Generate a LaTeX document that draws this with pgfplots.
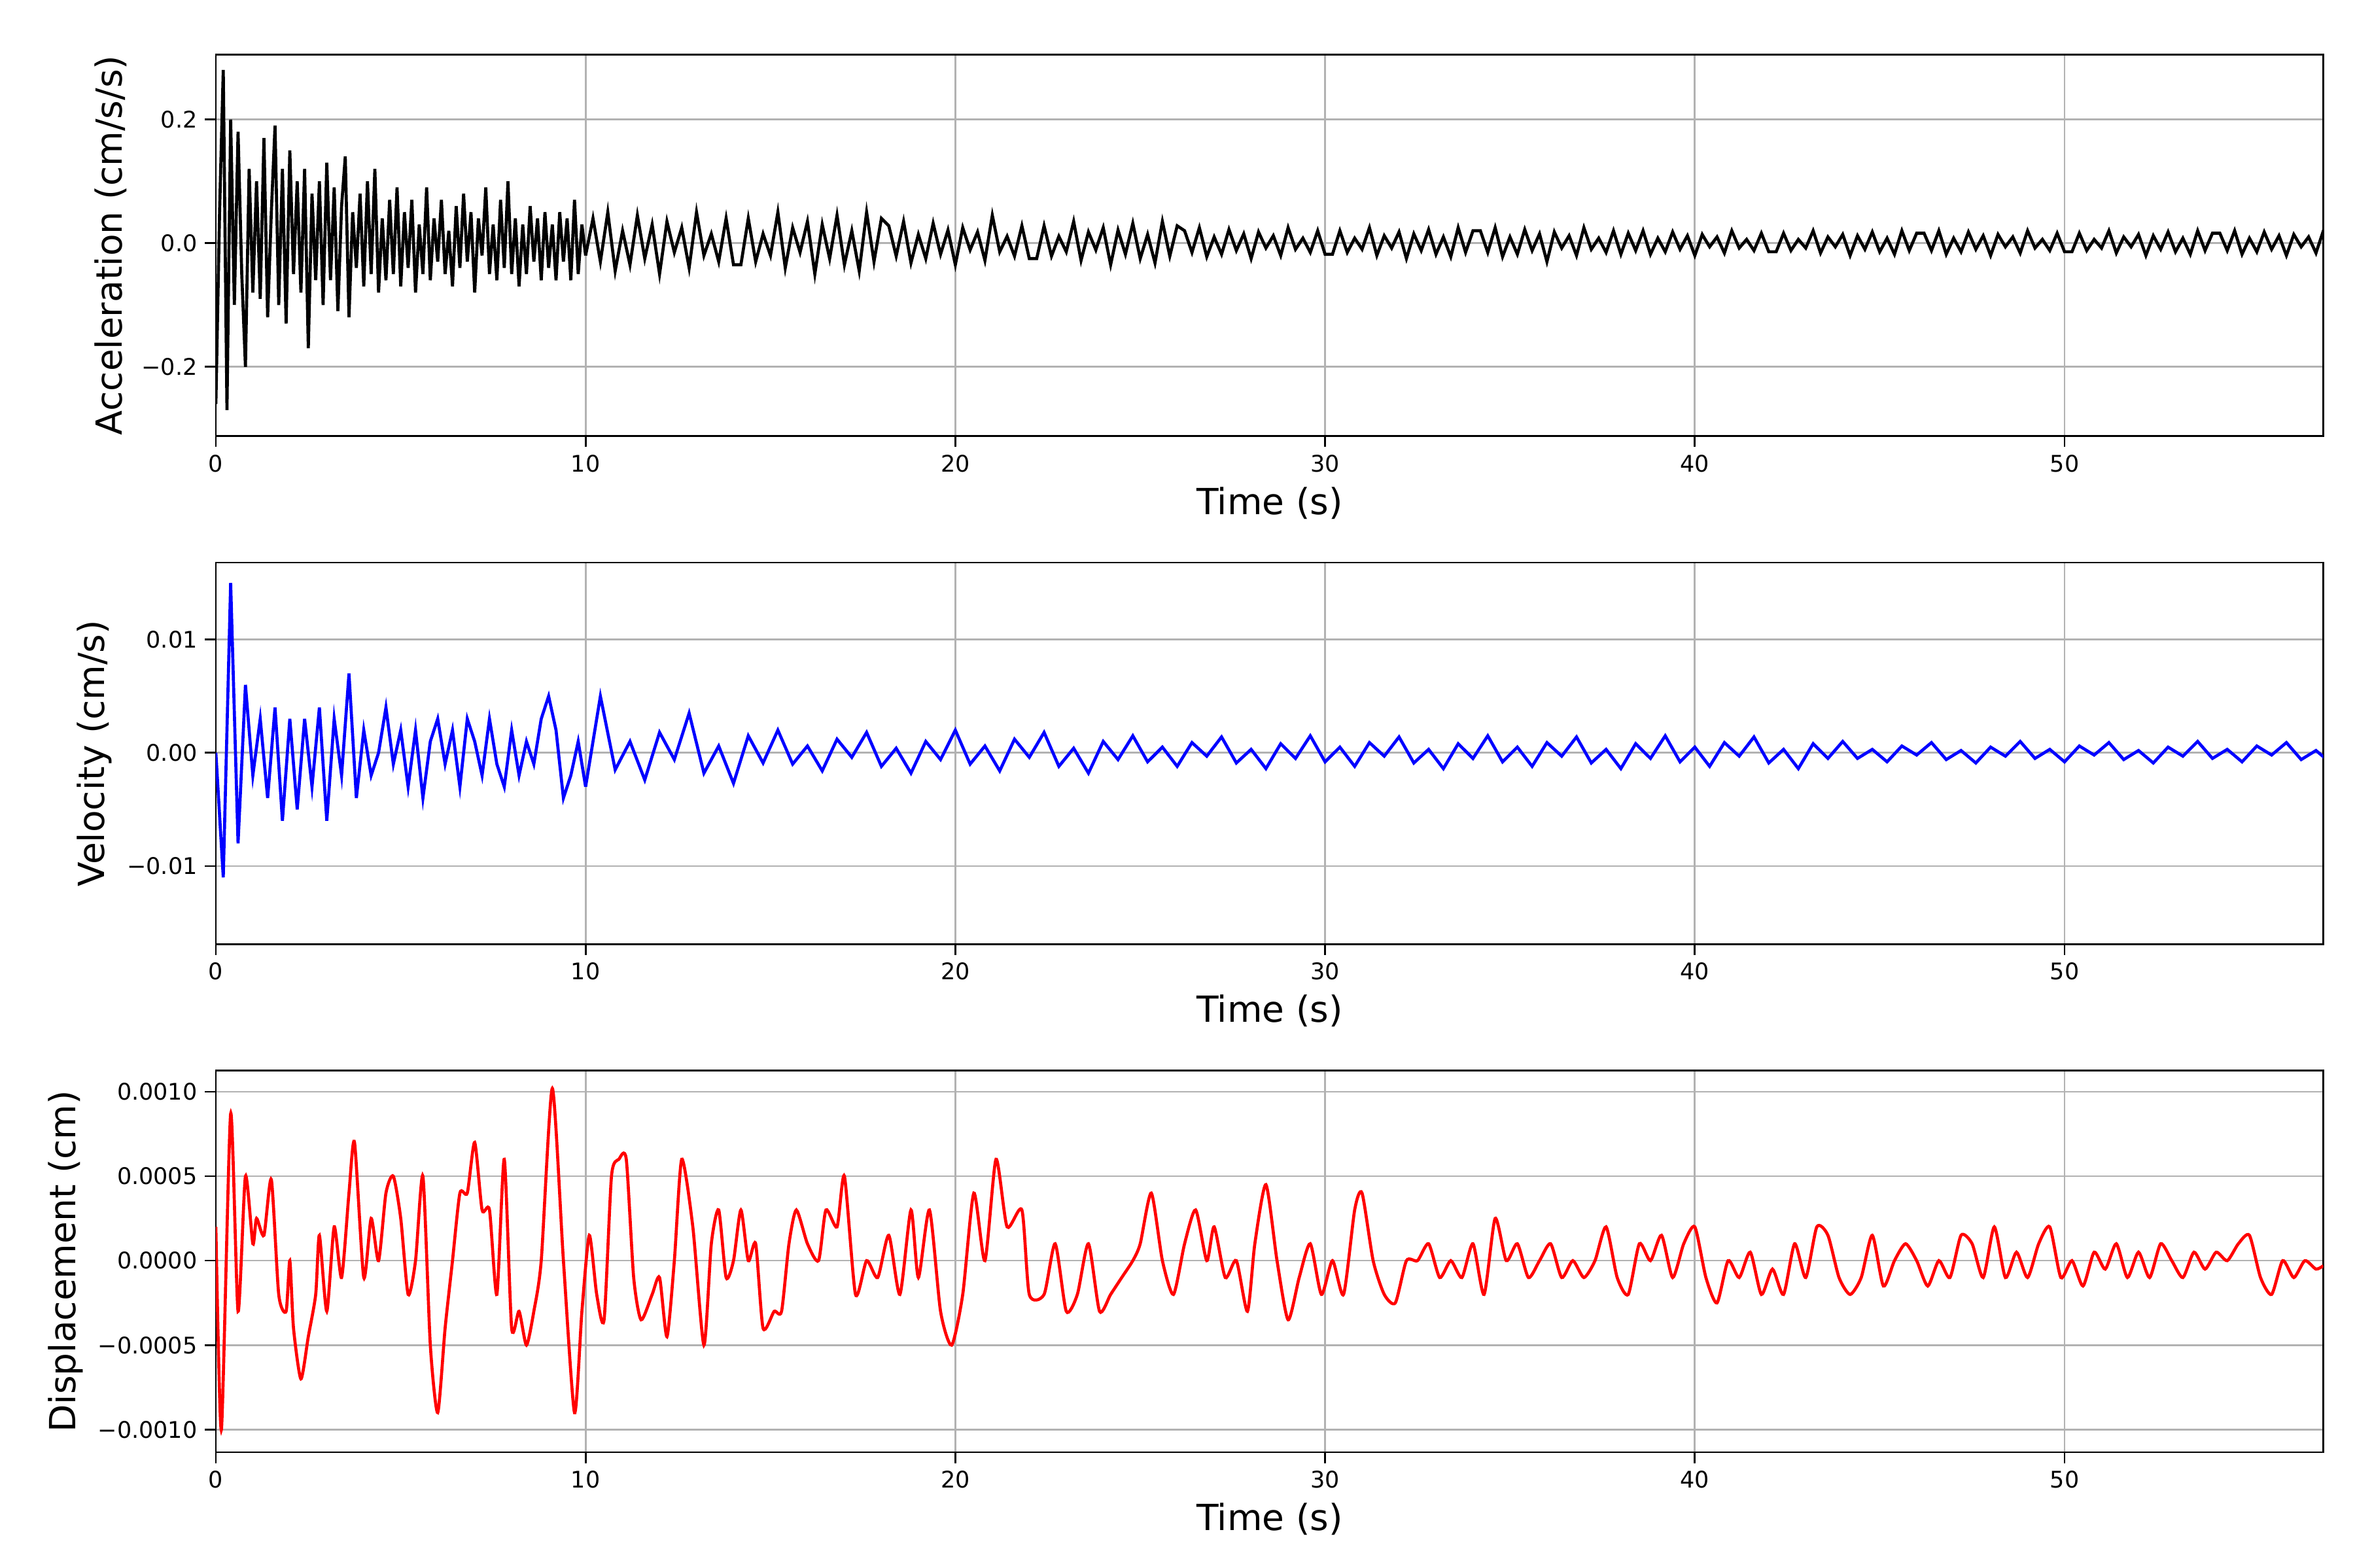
\documentclass[border=0pt]{standalone}
\usepackage{pgfplots}
\pgfplotsset{compat=1.18}
\usepackage{fontspec}
\setmainfont{DejaVu Sans}
\begin{document}
\begin{tikzpicture}
\pgfplotsset{
 every axis/.append style={
  scale only axis, width=966.5pt, height=175pt, xmin=0, xmax=57,
  xtick={0,10,20,30,40,50}, grid=major, scaled ticks=false,
  grid style={color=black!30, line width=0.8pt},
  axis line style={line width=0.8pt},
  tick style={black, line width=0.8pt}, tick align=outside,
  xtick pos=bottom, ytick pos=left, major tick length=5pt,
  ticklabel style={font=\fontsize{10.5}{12}\selectfont},
  label style={font=\fontsize{16.5}{18}\selectfont},
  /pgf/number format/assume math mode=true,
  xlabel={Time (s)},
 }}
\useasboundingbox (-99pt,-53pt) rectangle (981pt,666pt);
% Acceleration
\begin{axis}[at={(0,466pt)}, anchor=south west, ymin=-0.312, ymax=0.305,
 ytick={-0.2,0,0.2}, yticklabels={−0.2,0.0,0.2}, ylabel={Acceleration (cm/s/s)}]
\addplot[black, line width=1.4pt] table[row sep=\\, x expr=\coordindex*0.1, y=y]{y\\
-0.26\\0.05\\0.28\\-0.27\\0.2\\-0.1\\0.18\\-0.05\\-0.2\\0.12\\-0.08\\
0.1\\-0.09\\0.17\\-0.12\\0.05\\0.19\\-0.1\\0.12\\-0.13\\0.15\\-0.05\\0.1\\-0.08\\0.12\\-0.17\\0.08\\-0.06\\0.1\\-0.1\\0.13\\
-0.06\\0.09\\-0.11\\0.06\\0.14\\-0.12\\0.05\\-0.04\\0.08\\-0.07\\0.1\\-0.05\\0.12\\-0.08\\0.04\\-0.06\\0.07\\-0.05\\0.09\\-0.07\\
0.05\\-0.04\\0.07\\-0.08\\0.03\\-0.05\\0.09\\-0.06\\0.04\\-0.03\\0.07\\-0.05\\0.02\\-0.07\\0.06\\-0.04\\0.08\\-0.03\\0.05\\-0.08\\
0.04\\-0.02\\0.09\\-0.05\\0.03\\-0.06\\0.07\\-0.04\\0.1\\-0.05\\0.04\\-0.07\\0.03\\-0.05\\0.06\\-0.03\\0.04\\-0.06\\0.05\\-0.04\\
0.03\\-0.06\\0.05\\-0.03\\0.04\\-0.06\\0.07\\-0.05\\0.03\\-0.02\\
};
\addplot[black, line width=1.4pt] table[row sep=\\, x expr=10+\coordindex*0.2, y=y]{y\\
-0.02\\
0.04\\-0.03\\0.05\\-0.045\\0.02\\-0.035\\0.045\\-0.025\\0.03\\-0.05\\0.035\\-0.015\\0.025\\-0.04\\0.05\\-0.02\\0.015\\-0.03\\0.04\\-0.035\\
-0.035\\0.04\\-0.03\\0.015\\-0.02\\0.05\\-0.04\\0.025\\-0.015\\0.035\\-0.05\\0.03\\-0.025\\0.045\\-0.035\\0.02\\-0.045\\0.05\\-0.03\\0.04\\
0.028\\-0.021\\0.035\\-0.032\\0.014\\-0.025\\0.032\\-0.018\\0.021\\-0.035\\0.025\\-0.011\\0.018\\-0.028\\0.045\\-0.014\\0.011\\-0.021\\0.028\\-0.025\\
-0.025\\0.028\\-0.021\\0.011\\-0.014\\0.035\\-0.028\\0.018\\-0.011\\0.025\\-0.035\\0.021\\-0.018\\0.032\\-0.025\\0.014\\-0.032\\0.035\\-0.021\\0.028\\
0.02\\-0.015\\0.025\\-0.022\\0.01\\-0.018\\0.022\\-0.012\\0.015\\-0.025\\0.018\\-0.008\\0.012\\-0.02\\0.025\\-0.01\\0.008\\-0.015\\0.02\\-0.018\\
-0.018\\0.02\\-0.015\\0.008\\-0.01\\0.025\\-0.02\\0.012\\-0.008\\0.018\\-0.025\\0.015\\-0.012\\0.022\\-0.018\\0.01\\-0.022\\0.025\\-0.015\\0.02\\
0.02\\-0.015\\0.025\\-0.022\\0.01\\-0.018\\0.022\\-0.012\\0.015\\-0.03\\0.018\\-0.008\\0.012\\-0.02\\0.025\\-0.01\\0.008\\-0.015\\0.02\\-0.018\\
0.016\\-0.012\\0.02\\-0.018\\0.008\\-0.014\\0.018\\-0.01\\0.012\\-0.02\\0.014\\-0.006\\0.01\\-0.016\\0.02\\-0.008\\0.006\\-0.012\\0.016\\-0.014\\
-0.014\\0.016\\-0.012\\0.006\\-0.008\\0.02\\-0.016\\0.01\\-0.006\\0.014\\-0.02\\0.012\\-0.01\\0.018\\-0.014\\0.008\\-0.018\\0.02\\-0.012\\0.016\\
0.016\\-0.012\\0.02\\-0.018\\0.008\\-0.014\\0.018\\-0.01\\0.012\\-0.02\\0.014\\-0.006\\0.01\\-0.016\\0.02\\-0.008\\0.006\\-0.012\\0.016\\-0.014\\
-0.014\\0.016\\-0.012\\0.006\\-0.008\\0.02\\-0.016\\0.01\\-0.006\\0.014\\-0.02\\0.012\\-0.01\\0.018\\-0.014\\0.008\\-0.018\\0.02\\-0.012\\0.016\\
0.016\\-0.012\\0.02\\-0.018\\0.008\\-0.014\\0.018\\-0.01\\0.012\\-0.02\\0.014\\-0.006\\0.01\\-0.016\\0.02\\-0.008\\0.006\\-0.012\\0.016\\-0.014\\
};
\end{axis}
% Velocity
\begin{axis}[at={(0,233pt)}, anchor=south west, ymin=-0.0169, ymax=0.0168,
 ytick={-0.01,0,0.01}, yticklabels={−0.01,0.00,0.01}, ylabel={Velocity (cm/s)}]
\addplot[blue, line width=1.4pt] table[row sep=\\, x expr=\coordindex*0.2, y=y]{y\\
0\\-0.011\\0.015\\-0.008\\0.006\\-0.002\\0.003\\-0.004\\0.004\\-0.006\\0.003\\-0.005\\0.003\\-0.003\\0.004\\-0.006\\0.003\\-0.002\\0.007\\-0.004\\
0.002\\-0.002\\0.0\\0.004\\-0.001\\0.002\\-0.003\\0.002\\-0.004\\0.001\\0.003\\-0.001\\0.002\\-0.003\\0.003\\0.001\\-0.002\\0.003\\-0.001\\-0.003\\
0.002\\-0.002\\0.001\\-0.001\\0.003\\0.005\\0.002\\-0.004\\-0.002\\0.001\\-0.003\\
};
\addplot[blue, line width=1.4pt] table[row sep=\\, x expr=10+\coordindex*0.4, y=y]{y\\
-0.003\\
0.005\\-0.0015\\0.001\\-0.0024\\0.0018\\-0.0006\\0.0035\\-0.0018\\0.0006\\-0.0027\\0.0015\\-0.0009\\
0.002\\-0.001\\0.0006\\-0.0016\\0.0012\\-0.0004\\0.0018\\-0.0012\\0.0004\\-0.0018\\0.001\\-0.0006\\
0.002\\-0.001\\0.0006\\-0.0016\\0.0012\\-0.0004\\0.0018\\-0.0012\\0.0004\\-0.0018\\0.001\\-0.0006\\
0.0015\\-0.0008\\0.0005\\-0.0012\\0.0009\\-0.0003\\0.0014\\-0.0009\\0.0003\\-0.0014\\0.0008\\-0.0005\\
0.0015\\-0.0008\\0.0005\\-0.0012\\0.0009\\-0.0003\\0.0014\\-0.0009\\0.0003\\-0.0014\\0.0008\\-0.0005\\
0.0015\\-0.0008\\0.0005\\-0.0012\\0.0009\\-0.0003\\0.0014\\-0.0009\\0.0003\\-0.0014\\0.0008\\-0.0005\\
0.0015\\-0.0008\\0.0005\\-0.0012\\0.0009\\-0.0003\\0.0014\\-0.0009\\0.0003\\-0.0014\\0.0008\\-0.0005\\
0.001\\-0.0005\\0.0003\\-0.0008\\0.0006\\-0.0002\\0.0009\\-0.0006\\0.0002\\-0.0009\\0.0005\\-0.0003\\
0.001\\-0.0005\\0.0003\\-0.0008\\0.0006\\-0.0002\\0.0009\\-0.0006\\0.0002\\-0.0009\\0.0005\\-0.0003\\
0.001\\-0.0005\\0.0003\\-0.0008\\0.0006\\-0.0002\\0.0009\\-0.0006\\0.0002\\-0.0009\\0.0005\\-0.0003\\
};
\end{axis}
% Displacement
\begin{axis}[at={(0,0)}, anchor=south west, ymin=-0.001134, ymax=0.001125,
 ytick={-0.001,-0.0005,0,0.0005,0.001},
 yticklabels={−0.0010,−0.0005,0.0000,0.0005,0.0010}, ylabel={Displacement (cm)}]
\addplot[red, line width=1.4pt, smooth, tension=0.4] coordinates {
(0,0.0002)(0.15,-0.001)(0.4,0.00087)(0.6,-0.0003)(0.8,0.0005)(1.0,0.0001)(1.1,0.00025)(1.3,0.00015)(1.5,0.00048)(1.7,-0.0002)(1.9,-0.0003)(2.0,0.0)(2.1,-0.0004)(2.3,-0.0007)(2.5,-0.00045)(2.7,-0.0002)(2.8,0.00015)(3.0,-0.0003)(3.2,0.0002)(3.4,-0.0001)(3.6,0.0004)(3.75,0.0007)(4.0,-0.0001)(4.2,0.00025)(4.4,0.0)(4.6,0.0004)(4.8,0.0005)(5.0,0.00025)(5.2,-0.0002)(5.4,0.0)(5.6,0.0005)(5.8,-0.0005)(6.0,-0.0009)(6.2,-0.0004)(6.4,0.0)(6.6,0.0004)(6.8,0.0004)(7.0,0.0007)(7.2,0.0003)(7.4,0.0003)(7.6,-0.0002)(7.8,0.0006)(8.0,-0.0004)(8.2,-0.0003)(8.4,-0.0005)(8.6,-0.0003)(8.8,0.0)(9.1,0.00102)(9.4,0.0)(9.7,-0.0009)(9.9,-0.0003)(10.1,0.00015)(10.3,-0.0002)(10.5,-0.00035)(10.7,0.0005)(10.9,0.0006)(11.1,0.0006)(11.3,-0.0001)(11.5,-0.00035)(11.8,-0.0002)(12.0,-0.0001)(12.2,-0.00045)(12.4,0.0)(12.6,0.0006)(12.9,0.0002)(13.2,-0.0005)(13.4,0.0001)(13.6,0.0003)(13.8,-0.0001)(14.0,0.0)(14.2,0.0003)(14.4,0.0)(14.6,0.0001)(14.8,-0.0004)(15.1,-0.0003)(15.3,-0.0003)(15.5,0.0001)(15.7,0.0003)(16.0,0.0001)(16.3,0.0)(16.5,0.0003)(16.8,0.0002)(17.0,0.0005)(17.3,-0.0002)(17.6,0.0)(17.9,-0.0001)(18.2,0.00015)(18.5,-0.0002)(18.8,0.0003)(19.0,-0.0001)(19.3,0.0003)(19.6,-0.0003)(19.9,-0.0005)(20.2,-0.0002)(20.5,0.0004)(20.8,0.0)(21.1,0.0006)(21.4,0.0002)(21.8,0.0003)(22.0,-0.0002)(22.4,-0.0002)(22.7,0.0001)(23.0,-0.0003)(23.3,-0.0002)(23.6,0.0001)(23.9,-0.0003)(24.2,-0.0002)(24.5,-0.0001)(24.8,0.0)(25.0,0.0001)(25.3,0.0004)(25.6,0.0)(25.9,-0.0002)(26.2,0.0001)(26.5,0.0003)(26.8,0.0)(27.0,0.0002)(27.3,-0.0001)(27.6,0.0)(27.9,-0.0003)(28.1,0.0001)(28.4,0.00045)(28.7,0.0)(29.0,-0.00035)(29.3,-0.0001)(29.6,0.0001)(29.9,-0.0002)(30.2,0.0)(30.5,-0.0002)(30.8,0.0003)(31.0,0.0004)(31.3,0.0)(31.6,-0.0002)(31.9,-0.00025)(32.2,0.0)(32.5,0.0)(32.8,0.0001)(33.1,-0.0001)(33.4,0.0)(33.7,-0.0001)(34.0,0.0001)(34.3,-0.0002)(34.6,0.00025)(34.9,0.0)(35.2,0.0001)(35.5,-0.0001)(35.8,0.0)
(36.1,0.0001)(36.4,-0.0001)(36.7,0.0)(37.0,-0.0001)(37.3,0.0)(37.6,0.0002)(37.9,-0.0001)(38.2,-0.0002)(38.5,0.0001)(38.8,0.0)(39.1,0.00015)(39.4,-0.0001)(39.7,0.0001)(40.0,0.0002)(40.3,-0.0001)(40.6,-0.00025)(40.9,0.0)(41.2,-0.0001)(41.5,0.00005)(41.8,-0.0002)(42.1,-0.00005)(42.4,-0.0002)(42.7,0.0001)(43.0,-0.0001)(43.3,0.0002)(43.6,0.00015)(43.9,-0.0001)(44.2,-0.0002)(44.5,-0.0001)(44.8,0.00015)(45.1,-0.00015)(45.4,0.0)(45.7,0.0001)(46.0,0.0)(46.3,-0.00015)(46.6,0.0)(46.9,-0.0001)(47.2,0.00015)(47.5,0.0001)(47.8,-0.0001)(48.1,0.0002)(48.4,-0.0001)(48.7,0.00005)(49.0,-0.0001)(49.3,0.0001)(49.6,0.0002)(49.9,-0.0001)(50.2,0.0)(50.5,-0.00015)(50.8,0.00005)(51.1,-0.00005)(51.4,0.0001)(51.7,-0.0001)(52.0,0.00005)(52.3,-0.0001)(52.6,0.0001)(52.9,0.0)(53.2,-0.0001)(53.5,0.00005)(53.8,-0.00005)(54.1,0.00005)(54.4,0.0)(54.7,0.0001)(55.0,0.00015)(55.3,-0.0001)(55.6,-0.0002)(55.9,0.0)(56.2,-0.0001)(56.5,0.0)(56.8,-0.00005)(57.0,-0.00003)
};
\end{axis}
\end{tikzpicture}
\end{document}
